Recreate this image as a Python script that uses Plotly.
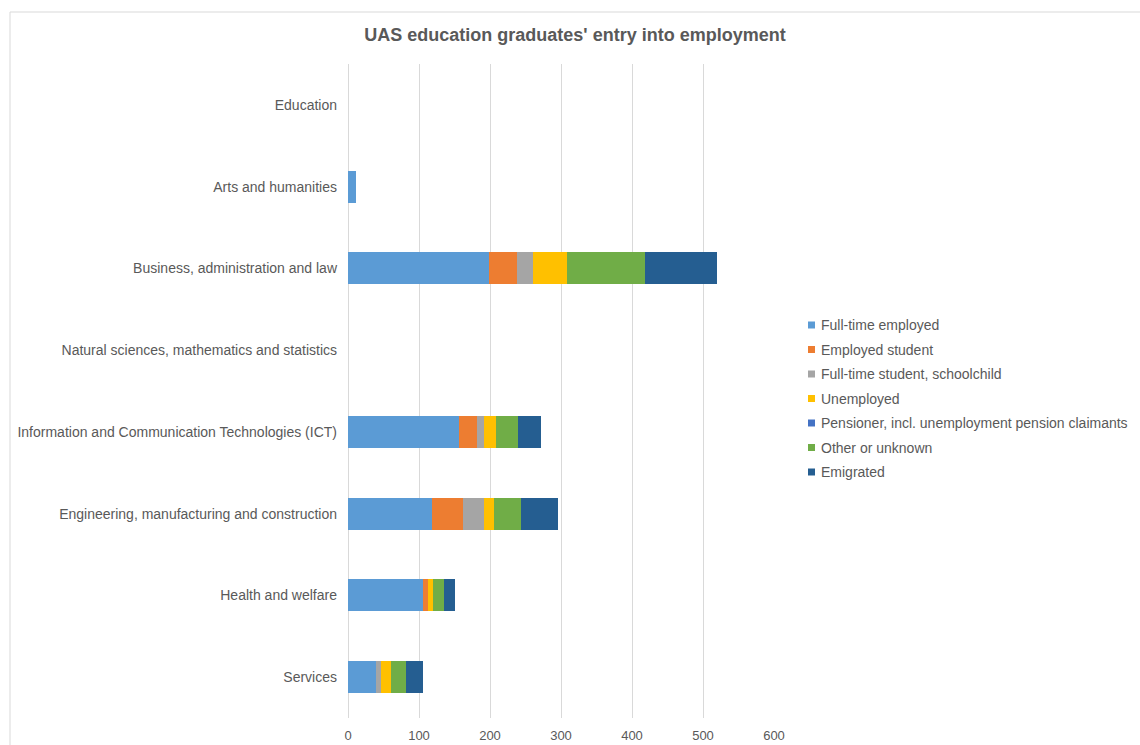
import plotly.graph_objects as go

# Fields of education (top to bottom)
categories = [
    "Education",
    "Arts and humanities",
    "Business, administration and law",
    "Natural sciences, mathematics and statistics",
    "Information and Communication Technologies (ICT)",
    "Engineering, manufacturing and construction",
    "Health and welfare",
    "Services",
]

# Graduates by labour-market status
full_time_employed = [0, 11, 198, 0, 157, 118, 105, 40]
employed_student = [0, 0, 40, 0, 24, 44, 8, 0]
full_time_student = [0, 0, 23, 0, 11, 30, 0, 7]
unemployed = [0, 0, 48, 0, 17, 13, 7, 13]
pensioner = [0, 0, 0, 0, 0, 0, 0, 0]
other_unknown = [0, 0, 109, 0, 31, 39, 15, 22]
emigrated = [0, 0, 102, 0, 32, 52, 15, 23]

series_names = [
    "Full-time employed",
    "Employed student",
    "Full-time student, schoolchild",
    "Unemployed",
    "Pensioner, incl. unemployment pension claimants",
    "Other or unknown",
    "Emigrated",
]
series_values = [
    full_time_employed, employed_student, full_time_student, unemployed,
    pensioner, other_unknown, emigrated,
]
colors = ["#5B9BD5", "#ED7D31", "#A5A5A5", "#FFC000", "#4472C4", "#70AD47", "#255E91"]

x_ticks = [0, 100, 200, 300, 400, 500, 600]

TEXT = "#595959"
FONT = "Liberation Sans, Arial, sans-serif"

fig = go.Figure()
for name, vals, col in zip(series_names, series_values, colors):
    fig.add_trace(go.Bar(
        y=categories, x=vals, name=name, orientation="h",
        marker=dict(color=col, line=dict(width=0)),
        showlegend=False,
    ))

W, H = 1140, 745
L, R, T, B = 348, 774, 64, 718

fig.update_layout(
    width=W, height=H,
    margin=dict(l=L, r=W - R, t=T, b=H - B, autoexpand=False),
    barmode="stack",
    bargap=0.61,
    plot_bgcolor="white",
    paper_bgcolor="white",
    font=dict(family=FONT, color=TEXT, size=14),
    title=dict(
        text="<b>UAS education graduates' entry into employment</b>",
        x=575 / W, xref="container", xanchor="center",
        y=1 - 35 / H, yref="container", yanchor="middle",
        font=dict(size=18, color=TEXT, family=FONT),
    ),
    xaxis=dict(
        range=[0, 600], tickvals=x_ticks, showgrid=True,
        gridcolor="#D9D9D9", gridwidth=1, zeroline=True,
        zerolinecolor="#D9D9D9", zerolinewidth=1, showline=False,
        ticks="", tickfont=dict(size=13, color=TEXT), ticklabelstandoff=8,
        fixedrange=True,
    ),
    yaxis=dict(
        categoryorder="array", categoryarray=categories,
        autorange="reversed", showgrid=False, showline=False, ticks="",
        tickfont=dict(size=14, color=TEXT), ticklabelstandoff=10,
        fixedrange=True,
    ),
)

# Outer chart frame
def px_x(px):
    return (px - L) / (R - L)

def px_y(py):
    return (B - py) / (B - T)

fig.add_shape(
    type="rect", xref="paper", yref="paper",
    x0=px_x(10), x1=px_x(1145), y0=px_y(750), y1=px_y(12),
    line=dict(color="#D9D9D9", width=1), fillcolor="rgba(0,0,0,0)",
    layer="below",
)

# Legend entries drawn as coloured squares with labels
leg_x = 808
leg_y0 = 325
leg_step = 24.5
for i, (name, col) in enumerate(zip(series_names, colors)):
    yc = leg_y0 + i * leg_step
    fig.add_shape(
        type="rect", xref="paper", yref="paper",
        x0=px_x(leg_x), x1=px_x(leg_x + 7),
        y0=px_y(yc + 3.5), y1=px_y(yc - 3.5),
        line=dict(width=0), fillcolor=col,
    )
    fig.add_annotation(
        xref="paper", yref="paper", x=px_x(leg_x + 11), y=px_y(yc),
        text=name, showarrow=False, xanchor="left", yanchor="middle",
        font=dict(size=14, color=TEXT, family=FONT),
    )

fig.write_html("out.html")
